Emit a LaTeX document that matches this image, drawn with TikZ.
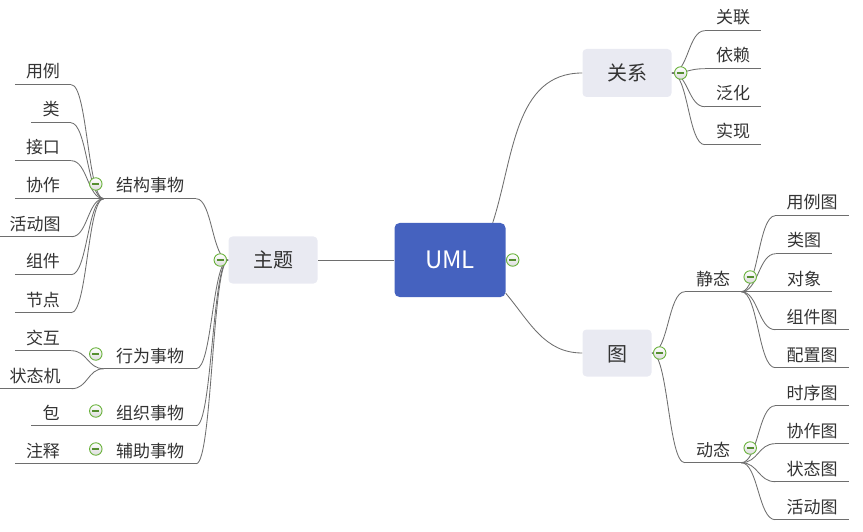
\documentclass[tikz,border=0pt]{standalone}
\usepackage{fontspec}
\setmainfont{Noto Sans CJK SC}
\usetikzlibrary{calc, backgrounds}

\definecolor{umlblue}{HTML}{4562BF}
\definecolor{topicfill}{HTML}{E9EAF2}
\definecolor{linkgray}{HTML}{6E6E6E}
\definecolor{foldgreen}{HTML}{6AB23C}
\definecolor{labelgray}{HTML}{333333}

\tikzset{
    base/.style = {text=labelgray, text centered},
    % Topics
    root/.style  = {base, rectangle, rounded corners=5pt, fill=umlblue, text=white,
                    minimum width=111pt, minimum height=74pt,
                    font=\fontsize{24}{27}\selectfont, text height=17pt, text depth=0pt},
    topic/.style = {base, rectangle, rounded corners=4pt, fill=topicfill,
                    minimum width=89pt, minimum height=47pt,
                    font=\fontsize{20}{24}\selectfont, text height=16pt, text depth=0pt},
    leaf/.style  = {base, inner xsep=11pt, inner ysep=0pt, minimum height=29pt,
                    text height=16pt, text depth=0pt, font=\fontsize{17}{20}\selectfont,
                    append after command={\pgfextra{\draw[link] (\tikzlastnode.south west) -- (\tikzlastnode.south east);}}},
    sub/.style   = {leaf, inner xsep=12pt},
    fold/.style  = {circle, draw=foldgreen, line width=0.9pt, top color=white, bottom color=black!14,
                    minimum size=12.5pt, inner sep=0pt,
                    path picture={\draw[foldgreen!80!black, line width=1.1pt]
                        ([xshift=-3.5pt]path picture bounding box.center) -- ([xshift=3.5pt]path picture bounding box.center);}},
    % Edges
    link/.style   = {draw=linkgray, line width=0.85pt},
    branch/.style = {link, to path={let \p1=(\tikztostart), \p2=(\tikztotarget) in
                     .. controls ({(\x1+\x2)/2},\y1) and ({(\x1+\x2)/2},\y2) .. (\tikztotarget)}}
}

\begin{document}
\begin{tikzpicture}[x=1pt, y=-1pt]
    \useasboundingbox (0,0) rectangle (863,532);

    \node (uml) [root] at (450,260) {UML};
    \node (zhuti) [topic] at (273,260) {主题};
    \node (guanxi) [topic, minimum height=48pt] at (627,73) {关系};
    \node (tu) [topic, minimum width=69pt] at (617,353) {图};

    % 主题
    \node (jiegou) [sub] at (150,184) {结构事物};
    \node (xingwei) [sub] at (150,354) {行为事物};
    \node (zuzhi) [sub] at (150,411) {组织事物};
    \node (fuzhu) [sub] at (150,449) {辅助事物};

    \node (yongli) [leaf] at (43,70) {用例};
    \node (lei) [leaf] at (51,108) {类};
    \node (jiekou) [leaf] at (43,146) {接口};
    \node (xiezuo) [leaf] at (43,184) {协作};
    \node (huodong) [leaf] at (35,222) {活动图};
    \node (zujian) [leaf] at (43,260) {组件};
    \node (jiedian) [leaf] at (43,298) {节点};
    \node (jiaohu) [leaf] at (43,336) {交互};
    \node (zhuangtaiji) [leaf] at (35,374) {状态机};
    \node (bao) [leaf] at (51,411) {包};
    \node (zhushi) [leaf] at (43,449) {注释};

    % 关系
    \node (guanlian) [leaf] at (733,16) {关联};
    \node (yilai) [leaf] at (733,54) {依赖};
    \node (fanhua) [leaf] at (733,92) {泛化};
    \node (shixian) [leaf] at (733,130) {实现};

    % 图
    \node (jingtai) [leaf] at (713,277) {静态};
    \node (dongtai) [leaf] at (713,448) {动态};

    \node (yonglitu) [leaf] at (812,201) {用例图};
    \node (leitu) [leaf] at (804,239) {类图};
    \node (duixiang) [leaf] at (804,277) {对象};
    \node (zujiantu) [leaf] at (812,315) {组件图};
    \node (peizhitu) [leaf] at (812,353) {配置图};
    \node (shixutu) [leaf] at (812,391) {时序图};
    \node (xiezuotu) [leaf] at (812,429) {协作图};
    \node (zhuangtaitu) [leaf] at (812,467) {状态图};
    \node (huodongtu) [leaf] at (812,505) {活动图};

    % Fold buttons
    \node (f-uml) [fold] at ([xshift=7pt]uml.east) {};
    \node (f-zhuti) [fold] at ([xshift=-8pt]zhuti.west) {};
    \node (f-guanxi) [fold] at ([xshift=9pt]guanxi.east) {};
    \node (f-tu) [fold] at ([xshift=8pt]tu.east) {};
    \foreach \b in {jiegou, xingwei, zuzhi, fuzhu}
        \node (f-\b) [fold] at ([xshift=-8pt]\b.west) {};
    \node (f-jingtai) [fold] at ([xshift=9pt]jingtai.east) {};
    \node (f-dongtai) [fold] at ([xshift=9pt]dongtai.east) {};

    \begin{scope}[on background layer]
        \draw [link] (uml.west) -- (zhuti.east);
        \draw [link] ([xshift=-13pt]uml.north east) to[out=72, in=180] (guanxi.west);
        \draw [link] ([yshift=4pt]uml.south east) to[out=-50, in=180] (tu.west);

        \foreach \b in {jiegou, xingwei, zuzhi, fuzhu}
            \draw [branch] (zhuti.west) to (\b.south east);
        \foreach \b in {yongli, lei, jiekou, xiezuo, huodong, zujian, jiedian}
            \draw [branch] (jiegou.south west) to (\b.south east);
        \foreach \b in {jiaohu, zhuangtaiji}
            \draw [branch] (xingwei.south west) to (\b.south east);
        \draw [branch] (zuzhi.south west) to (bao.south east);
        \draw [branch] (fuzhu.south west) to (zhushi.south east);

        \foreach \b in {guanlian, yilai, fanhua, shixian}
            \draw [branch] (guanxi.east) to (\b.south west);
        \draw [branch] (tu.east) to (jingtai.south west);
        \draw [branch] (tu.east) to (dongtai.south west);
        \foreach \b in {yonglitu, leitu, duixiang, zujiantu, peizhitu}
            \draw [branch] (jingtai.south east) to (\b.south west);
        \foreach \b in {shixutu, xiezuotu, zhuangtaitu, huodongtu}
            \draw [branch] (dongtai.south east) to (\b.south west);
    \end{scope}
\end{tikzpicture}
\end{document}
